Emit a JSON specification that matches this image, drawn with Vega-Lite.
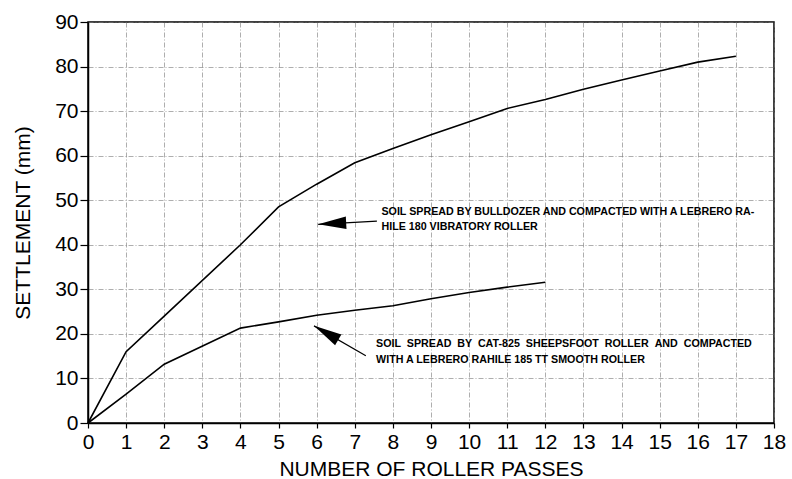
{
  "$schema": "https://vega.github.io/schema/vega-lite/v6.json",
  "autosize": {"type": "none"},
  "width": 686,
  "height": 401,
  "padding": {"left": 88, "top": 22, "right": 18, "bottom": 56},
  "background": "white",
  "config": {
    "font": "Liberation Sans",
    "view": {"stroke": "black", "strokeWidth": 1.5},
    "axis": {
      "domainColor": "black",
      "domainWidth": 1.5,
      "tickColor": "black",
      "tickWidth": 1.2,
      "labelColor": "black",
      "labelFont": "Liberation Sans",
      "labelFontSize": 21,
      "labelFlush": false,
      "labelOverlap": false,
      "titleColor": "black",
      "titleFont": "Liberation Sans",
      "titleFontSize": 21,
      "titleFontWeight": "normal",
      "gridColor": "#777777",
      "gridDash": [5, 2, 1, 2],
      "gridWidth": 0.8,
      "gridOpacity": 0.75
    }
  },
  "datasets": {
    "curves": [
      {"curve": "bulldozer", "passes": 0, "settlement": 0},
      {"curve": "bulldozer", "passes": 1, "settlement": 16},
      {"curve": "bulldozer", "passes": 2, "settlement": 24},
      {"curve": "bulldozer", "passes": 4, "settlement": 40},
      {"curve": "bulldozer", "passes": 5, "settlement": 48.5},
      {"curve": "bulldozer", "passes": 6, "settlement": 53.6},
      {"curve": "bulldozer", "passes": 7, "settlement": 58.4},
      {"curve": "bulldozer", "passes": 8, "settlement": 61.6},
      {"curve": "bulldozer", "passes": 9, "settlement": 64.7},
      {"curve": "bulldozer", "passes": 10, "settlement": 67.6},
      {"curve": "bulldozer", "passes": 11, "settlement": 70.6},
      {"curve": "bulldozer", "passes": 12, "settlement": 72.6},
      {"curve": "bulldozer", "passes": 13, "settlement": 74.9},
      {"curve": "bulldozer", "passes": 14, "settlement": 77},
      {"curve": "bulldozer", "passes": 15, "settlement": 79},
      {"curve": "bulldozer", "passes": 16, "settlement": 81},
      {"curve": "bulldozer", "passes": 17, "settlement": 82.3},
      {"curve": "sheepsfoot", "passes": 0, "settlement": 0},
      {"curve": "sheepsfoot", "passes": 1, "settlement": 6.5},
      {"curve": "sheepsfoot", "passes": 2, "settlement": 13.2},
      {"curve": "sheepsfoot", "passes": 4, "settlement": 21.3},
      {"curve": "sheepsfoot", "passes": 5, "settlement": 22.7},
      {"curve": "sheepsfoot", "passes": 6, "settlement": 24.2},
      {"curve": "sheepsfoot", "passes": 7, "settlement": 25.3},
      {"curve": "sheepsfoot", "passes": 8, "settlement": 26.3},
      {"curve": "sheepsfoot", "passes": 9, "settlement": 27.9},
      {"curve": "sheepsfoot", "passes": 10, "settlement": 29.3},
      {"curve": "sheepsfoot", "passes": 11, "settlement": 30.5},
      {"curve": "sheepsfoot", "passes": 12, "settlement": 31.6}
    ],
    "arrows": [
      {"passes": 6.04, "settlement": 44.6, "tailPasses": 7.58, "tailSettlement": 45.3, "angle": -3},
      {"passes": 5.93, "settlement": 21.8, "tailPasses": 7.29, "tailSettlement": 15.1, "angle": 30}
    ],
    "notes": [
      {"passes": 7.7, "settlement": 46.6, "text": "SOIL SPREAD BY BULLDOZER AND COMPACTED WITH A LEBRERO RA-"},
      {"passes": 7.7, "settlement": 43.3, "text": "HILE 180 VIBRATORY ROLLER"},
      {"passes": 7.56, "settlement": 17.0, "text": "SOIL \u00a0SPREAD \u00a0BY \u00a0CAT-825 \u00a0SHEEPSFOOT \u00a0ROLLER \u00a0AND \u00a0COMPACTED"},
      {"passes": 7.56, "settlement": 13.5, "text": "WITH A LEBRERO RAHILE 185 TT SMOOTH ROLLER"}
    ]
  },
  "encoding": {
    "x": {
      "field": "passes",
      "type": "quantitative",
      "scale": {"domain": [0, 18], "nice": false},
      "axis": {
        "title": "NUMBER OF ROLLER PASSES",
        "values": [0, 1, 2, 3, 4, 5, 6, 7, 8, 9, 10, 11, 12, 13, 14, 15, 16, 17, 18],
        "tickSize": 5,
        "labelPadding": 3,
        "titlePadding": 6
      }
    },
    "y": {
      "field": "settlement",
      "type": "quantitative",
      "scale": {"domain": [0, 90], "nice": false},
      "axis": {
        "title": "SETTLEMENT (mm)",
        "values": [0, 10, 20, 30, 40, 50, 60, 70, 80, 90],
        "tickSize": 8,
        "labelPadding": 2,
        "titlePadding": 21
      }
    }
  },
  "layer": [
    {
      "data": {"name": "curves"},
      "mark": {"type": "line", "color": "black", "strokeWidth": 1.6},
      "encoding": {
        "detail": {"field": "curve"}
      }
    },
    {
      "data": {"name": "arrows"},
      "mark": {"type": "rule", "color": "black", "strokeWidth": 1.2},
      "encoding": {
        "x2": {"field": "tailPasses"},
        "y2": {"field": "tailSettlement"}
      }
    },
    {
      "data": {"name": "arrows"},
      "mark": {
        "type": "point",
        "shape": "M0,0 L2,-0.45 L2,0.45 Z",
        "filled": true,
        "color": "black",
        "opacity": 1,
        "size": 784
      },
      "encoding": {
        "angle": {"field": "angle", "type": "quantitative", "scale": null}
      }
    },
    {
      "data": {"name": "notes"},
      "mark": {
        "type": "text",
        "align": "left",
        "baseline": "alphabetic",
        "font": "Liberation Sans",
        "fontWeight": "bold",
        "fontSize": 10.7,
        "color": "black"
      },
      "encoding": {
        "text": {"field": "text"}
      }
    }
  ]
}
